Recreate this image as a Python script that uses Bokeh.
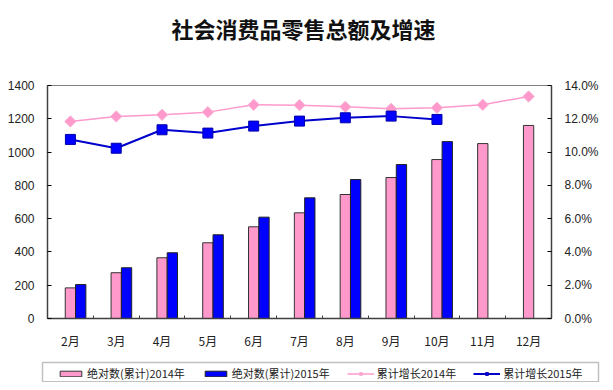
from bokeh.plotting import figure
from bokeh.layouts import column, row
from bokeh.models import (Range1d, LinearAxis, FixedTicker, PrintfTickFormatter,
                          Legend, LegendItem, ColumnDataSource, BoxAnnotation, Label)
from bokeh.embed import file_html
from bokeh.resources import INLINE

chart_title = "社会消费品零售总额及增速"
months = ["2月", "3月", "4月", "5月", "6月", "7月", "8月", "9月", "10月", "11月", "12月"]
abs_2014 = [184, 275, 365, 455, 551, 635, 745, 847, 955, 1051, 1160]
abs_2015 = [204, 305, 395, 503, 609, 725, 835, 925, 1063]
growth_2014 = [11.84, 12.14, 12.24, 12.40, 12.84, 12.82, 12.72, 12.60, 12.66, 12.84, 13.34]
growth_2015 = [10.76, 10.23, 11.34, 11.14, 11.56, 11.86, 12.06, 12.16, 11.96]
series_names = ["绝对数(累计)2014年", "绝对数(累计)2015年", "累计增长2014年", "累计增长2015年"]

centers = [i + 0.5 for i in range(len(months))]
bar_w = 0.225
x14 = centers
x15 = [c + bar_w for c in centers[:len(abs_2015)]]

PINK = "#FF99CC"
BLUE = "#0000FF"
FONT = "Liberation Sans"
AX_COLOR = "#404040"
W = 605


def strip(height):
    f = figure(width=W, height=height, output_backend="svg", toolbar_location=None,
               x_range=Range1d(0, W), y_range=Range1d(0, height),
               x_axis_location=None, y_axis_location=None,
               min_border_left=0, min_border_right=0, min_border_top=0,
               min_border_bottom=0, outline_line_color=None,
               background_fill_color="white", border_fill_color="white")
    f.xgrid.visible = False
    f.ygrid.visible = False
    return f


# title strip
TH = 52
tf = strip(TH)
tf.add_layout(Label(x=W / 2 + 0.5, y=TH - 27.5, text=chart_title, text_align="center",
                    text_baseline="middle", text_font="Noto Sans CJK SC",
                    text_font_size="22px", text_font_style="bold", text_color="#111111"))

# main chart
p = figure(width=W, height=360 - TH, output_backend="svg", toolbar_location=None,
           x_range=Range1d(0, len(months)), y_range=Range1d(0, 1400),
           min_border_left=47, min_border_right=54, min_border_top=85 - TH,
           min_border_bottom=42, background_fill_color="white",
           border_fill_color="white")
p.extra_y_ranges = {"pct": Range1d(0, 14)}
p.xgrid.visible = False
p.ygrid.visible = False
p.outline_line_color = "#808080"
p.outline_line_width = 1

# left axis
ya = p.yaxis[0]
ya.ticker = FixedTicker(ticks=list(range(0, 1401, 200)))
ya.axis_line_color = AX_COLOR
ya.axis_line_width = 1.5
ya.major_tick_in = 4
ya.major_tick_out = 0
ya.minor_tick_line_color = None
ya.major_label_text_font = FONT
ya.major_label_text_font_size = "12px"
ya.major_label_text_color = "#222222"
ya.major_label_standoff = 13

# right axis
ra = LinearAxis(y_range_name="pct", ticker=FixedTicker(ticks=list(range(0, 15, 2))),
                formatter=PrintfTickFormatter(format="%.1f%%"))
ra.axis_line_color = AX_COLOR
ra.axis_line_width = 1.5
ra.major_tick_in = 4
ra.major_tick_out = 0
ra.minor_tick_line_color = None
ra.major_label_text_font = FONT
ra.major_label_text_font_size = "12px"
ra.major_label_text_color = "#222222"
ra.major_label_standoff = 13
p.add_layout(ra, "right")

# bottom axis
xa = p.xaxis[0]
xa.ticker = FixedTicker(ticks=centers, minor_ticks=list(range(1, len(months))))
xa.major_label_overrides = {c: m for c, m in zip(centers, months)}
xa.axis_line_color = AX_COLOR
xa.axis_line_width = 1.5
xa.major_tick_line_color = None
xa.major_tick_in = 0
xa.major_tick_out = 0
xa.minor_tick_in = 3
xa.minor_tick_out = 0
xa.minor_tick_line_color = AX_COLOR
xa.major_label_text_font = "Noto Sans CJK SC"
xa.major_label_text_font_size = "12px"
xa.major_label_text_color = "#222222"
xa.major_label_standoff = 13

bar14_style = dict(fill_color=PINK, line_color="#333333", line_width=1)
bar15_style = dict(fill_color=BLUE, line_color="#222222", line_width=1)
line14_style = dict(line_color=PINK, line_width=1.5)
mark14_style = dict(marker="square", angle=0.785398, size=8, fill_color=PINK,
                    line_color="#F7B3D6", line_width=1)
line15_style = dict(line_color="#0000CC", line_width=2)
mark15_style = dict(marker="square", size=10, fill_color=BLUE,
                    line_color="#0000AA", line_width=1)

s14 = ColumnDataSource(dict(x=x14, top=abs_2014))
s15 = ColumnDataSource(dict(x=x15, top=abs_2015))
p.vbar(x="x", top="top", width=bar_w, source=s14, **bar14_style)
p.vbar(x="x", top="top", width=bar_w, source=s15, **bar15_style)

g14 = ColumnDataSource(dict(x=centers, y=growth_2014))
g15 = ColumnDataSource(dict(x=centers[:len(growth_2015)], y=growth_2015))
p.line("x", "y", source=g14, y_range_name="pct", **line14_style)
p.scatter("x", "y", source=g14, y_range_name="pct", **mark14_style)
p.line("x", "y", source=g15, y_range_name="pct", **line15_style)
p.scatter("x", "y", source=g15, y_range_name="pct", **mark15_style)

# legend strip below the chart
LH = 22
lg = strip(LH)
# legend proxies (kept outside the visible range of the strip)
off_bar = ColumnDataSource(dict(x=[-500], top=[-500]))
off_pt = ColumnDataSource(dict(x=[-500, -490], y=[-500, -490]))
rb14 = lg.vbar(x="x", top="top", width=1, bottom=-510, source=off_bar, **bar14_style)
rb15 = lg.vbar(x="x", top="top", width=1, bottom=-510, source=off_bar, **bar15_style)
rl14 = lg.line("x", "y", source=off_pt, **line14_style)
rm14 = lg.scatter("x", "y", source=off_pt, **mark14_style)
rl15 = lg.line("x", "y", source=off_pt, **line15_style)
rm15 = lg.scatter("x", "y", source=off_pt, **mark15_style)

lg.add_layout(BoxAnnotation(left=42, right=598, bottom=0.8, top=20,
                            fill_color=None, line_color="#333333", line_width=1.5))

legend = Legend(items=[
    LegendItem(label=series_names[0], renderers=[rb14]),
    LegendItem(label=series_names[1], renderers=[rb15]),
    LegendItem(label=series_names[2], renderers=[rl14, rm14]),
    LegendItem(label=series_names[3], renderers=[rl15, rm15]),
], orientation="horizontal", location=(57, 1))
legend.label_text_font = "Noto Sans CJK SC"
legend.label_text_font_size = "11px"
legend.label_text_color = "#222222"
legend.glyph_width = 27
legend.glyph_height = 7
legend.label_standoff = 3
legend.spacing = 17
legend.padding = 2
legend.margin = 0
legend.border_line_color = None
legend.background_fill_alpha = 0
legend.label_height = 12
lg.add_layout(legend, "center")

layout = column(row(tf), p, row(lg), spacing=0)
open("out.html", "w").write(file_html(layout, INLINE))
